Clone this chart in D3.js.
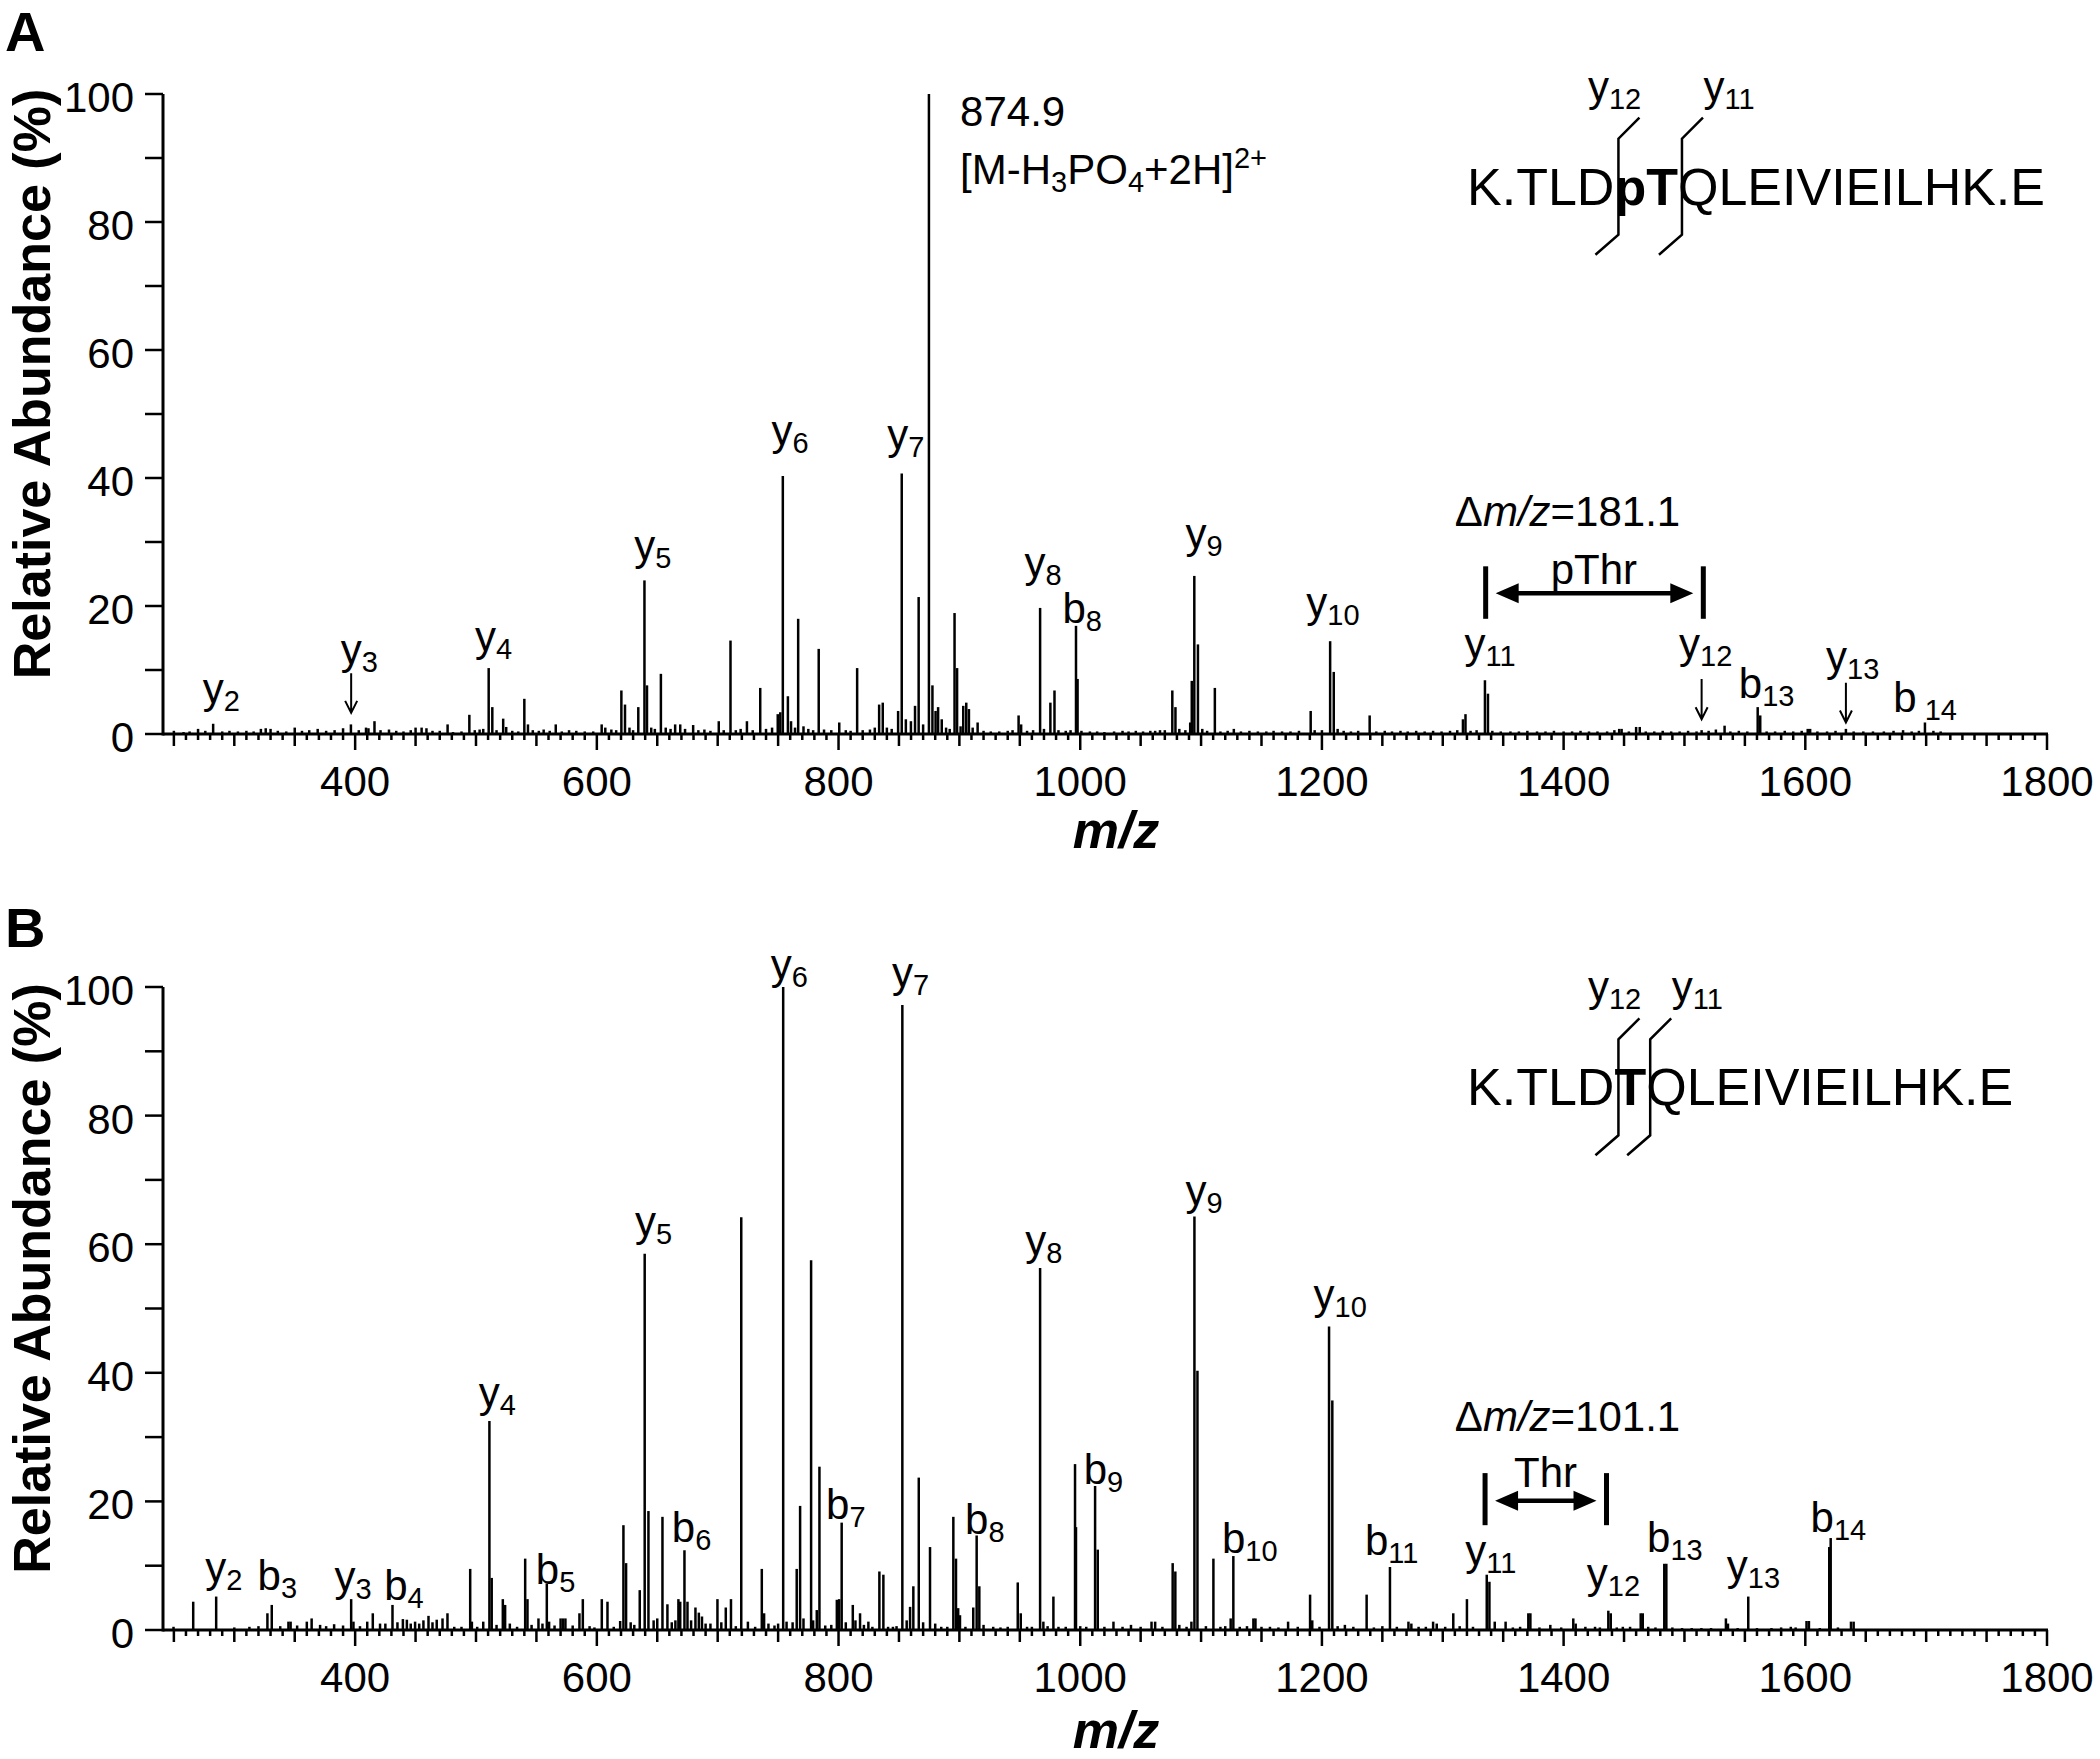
<!DOCTYPE html>
<html>
<head>
<meta charset="utf-8">
<script src="https://cdn.jsdelivr.net/npm/d3@7"></script>
<style>
  body { margin: 0; background: #fff; }
  svg { display: block; }
  text { font-family: Arial, "Liberation Sans", Helvetica, sans-serif; fill: #000; }
</style>
</head>
<body>
<div id="chart"></div>
<script>
// axis values
const xDomain = [241, 1800];
const xTickLabels = [400, 600, 800, 1000, 1200, 1400, 1600, 1800];
const yTickLabels = [0, 20, 40, 60, 80, 100];

// panel A spectrum: [m/z, relative abundance %]
const peaksA = [[250,0.5],[258,0.3],[263,0.4],[270,0.8],[276,0.5],[282.5,1.6],[290,0.4],[296,0.5],[303,0.4],[310,0.5],[316,0.4],[322,0.8],[326,0.9],[330,0.8],[336,0.5],[343,0.4],[350,1.0],[356,0.5],[362,0.6],[369,0.8],[376,0.5],[383,0.6],[390,0.9],[396.5,1.5],[403,0.6],[409,1.0],[411,0.9],[416,2.0],[421,0.6],[428,0.7],[434,0.5],[440,0.4],[446,0.6],[450,1.0],[455,1.0],[459,0.9],[464,0.5],[470,0.5],[476.5,1.5],[481,0.3],[488,0.4],[494.5,3.0],[499,0.6],[503,0.7],[506,0.8],[510.5,10.3],[513.5,4.2],[517,0.6],[522.5,2.4],[525,1.1],[530,0.5],[535,0.4],[540,5.5],[543,1.5],[547,0.6],[552,0.5],[556,0.7],[561,0.5],[566,1.5],[571,0.4],[577,0.6],[583,0.5],[590,0.4],[597,0.4],[604,1.5],[607,1.0],[612,0.7],[616,0.6],[620.3,6.8],[623.3,4.6],[627,1.0],[630,0.6],[634.3,4.2],[639.4,24],[641.5,7.6],[645,1.0],[648,0.8],[653,9.4],[657,1.0],[661,0.8],[664.8,1.5],[669,1.5],[673,0.8],[679.7,1.4],[684,0.6],[689,0.7],[694,0.5],[700.9,2.0],[705,0.6],[710.6,14.6],[715,0.6],[719,0.8],[724.2,2.0],[729,0.6],[735.2,7.2],[740,0.8],[745,1.0],[749.7,3.1],[751.8,3.4],[753.9,40.3],[758.1,5.9],[760.7,2.0],[764,1.0],[766.6,18],[771,1.2],[775,0.8],[779,0.6],[783.6,13.3],[788,0.7],[794,0.6],[800.6,1.8],[806,0.6],[810,0.5],[815.4,10.3],[820,0.6],[826,0.7],[830,1.0],[833.6,4.6],[836.6,4.9],[840,1.0],[844,0.8],[849.3,3.6],[852.3,40.7],[855.7,2.3],[859.9,2.0],[863.3,4.4],[866.3,21.4],[870,1.5],[874.8,100],[877.7,7.6],[880.3,3.6],[882.4,4.2],[885.4,2.3],[889,1.0],[892,0.8],[896,18.9],[898.1,10.3],[901,1.2],[903.2,4.4],[905.7,4.9],[907.9,3.9],[911,1.0],[915.1,1.8],[920,0.5],[926,0.4],[933,0.4],[940,0.5],[944,0.6],[949,2.9],[951.1,1.5],[956,0.5],[961,0.6],[966.8,19.7],[970,0.8],[975.3,4.9],[978.7,6.8],[982,0.6],[988,0.5],[992,0.6],[996.5,16.9],[997.8,8.6],[1001,0.5],[1008,0.4],[1014,0.4],[1020,0.3],[1028,0.4],[1035,0.5],[1040,0.4],[1046,0.5],[1052,0.4],[1058,0.5],[1062,0.5],[1066,0.6],[1070,0.6],[1076.2,6.8],[1078.8,4.2],[1082,0.8],[1087,0.6],[1091,1.8],[1092.3,8.3],[1094.4,24.7],[1097.4,14],[1101,0.8],[1105,0.5],[1111.4,7.2],[1116,0.4],[1122,0.5],[1127.1,0.8],[1133,0.4],[1140,0.5],[1147,0.4],[1154,0.4],[1160,0.5],[1167,0.4],[1174,0.4],[1181,0.5],[1190.7,3.6],[1194,0.6],[1200,0.6],[1206.8,14.5],[1209.8,9.7],[1213,0.8],[1218,0.5],[1224,0.4],[1230,0.5],[1239.5,2.9],[1245,0.4],[1252,0.5],[1258,0.4],[1265,0.5],[1271,0.4],[1278,0.5],[1285,0.4],[1292,0.5],[1299,0.4],[1306,0.5],[1312,0.6],[1316.7,2.3],[1318.8,3.1],[1323,0.5],[1328,0.6],[1334.9,8.4],[1337.4,6.3],[1341,0.5],[1348,0.4],[1356,0.4],[1363,0.4],[1370,0.5],[1378,0.4],[1385,0.4],[1392,0.5],[1400,0.4],[1407,0.4],[1414,0.5],[1421,0.4],[1428,0.4],[1436,0.4],[1442,0.6],[1446,0.8],[1448,0.8],[1454,0.4],[1460,1.1],[1463,1.1],[1468,0.4],[1475,0.4],[1482,0.5],[1489,0.4],[1496,0.4],[1503,0.5],[1510,0.4],[1514.2,0.6],[1520,0.5],[1526,0.7],[1533.2,1.3],[1538,0.4],[1545,0.5],[1552,0.4],[1560.6,4.2],[1562.7,2.9],[1568,0.4],[1575,0.4],[1583,0.5],[1590,0.4],[1597,0.5],[1602,0.8],[1604,0.8],[1610,0.4],[1618,0.4],[1625,0.5],[1633.6,0.8],[1640,0.4],[1648,0.4],[1656,0.4],[1665,0.4],[1673,0.5],[1680.9,0.6],[1688,0.4],[1694,0.5],[1699,1.8],[1706,0.5],[1712,0.4]];

// panel B spectrum: [m/z, relative abundance %]
const peaksB = [[249.7,0.5],[266,4.4],[285,5.2],[300,0.4],[312.5,0.5],[320,0.6],[327.4,2.6],[331,3.9],[338,0.6],[344.8,1.3],[346.6,1.3],[352,0.7],[360,1.3],[364,1.8],[371,0.8],[376,0.6],[382.6,0.9],[390,0.7],[396.7,4.8],[398.6,1.3],[404,0.6],[410,1.3],[414.6,2.6],[420.6,1.0],[425,1.0],[430.9,3.9],[435,1.2],[439.5,1.7],[442.8,1.6],[446,1.0],[449.6,1.3],[453,1.0],[456.5,1.5],[460.7,2.2],[464,1.2],[467.5,1.6],[472.3,1.8],[476.4,2.6],[482,0.5],[488,0.5],[495.2,9.5],[496.6,1.3],[501,0.5],[506,1.3],[511.1,32.5],[513,8.1],[517,0.8],[522.2,4.8],[524.1,3.9],[528,1.0],[534,0.5],[540.7,11.1],[542.6,4.8],[546,0.8],[551.7,1.8],[555,1.0],[558.6,7.2],[560.5,1.3],[565,0.7],[570,1.8],[572,1.8],[574,1.8],[580,0.7],[585.6,2.6],[588.4,4.8],[594,0.6],[598,0.4],[604.1,4.8],[608.8,4.4],[614,0.5],[619.3,1.4],[622,16.3],[624.2,10.4],[628,1.2],[631,0.8],[635.5,6.2],[639.6,58.5],[642.7,18.5],[647,1.5],[650,1.8],[654.3,17.6],[658.4,4.0],[662,1.2],[665,1.5],[667.5,4.8],[669,4.4],[672.5,12.4],[675,4.4],[678,1.5],[681.6,3.5],[684.4,2.7],[687,2.1],[690,1.0],[694,1.0],[699.8,4.8],[703,1.2],[706.7,3.5],[711,4.8],[715,0.6],[719.5,64.2],[725,1.3],[731,0.5],[736.5,9.5],[738.4,2.6],[742,1.0],[747,0.7],[750,1.0],[754.2,100],[757,1.3],[762,1.2],[765.4,9.5],[768.2,19.3],[771,1.8],[777.3,57.5],[779,1.5],[782,3.1],[784.2,25.4],[789,0.7],[794,0.8],[798.6,4.7],[800.5,4.8],[802.6,16.7],[806,1.2],[811.8,3.9],[814,1.5],[817.8,2.6],[821,0.8],[824.7,1.3],[828,0.5],[833.8,9.1],[837.1,8.6],[841,0.5],[845,0.5],[848,0.6],[852.8,97.2],[856.4,1.5],[859.2,3.6],[861.9,6.8],[866.4,23.7],[870,1.2],[875.7,12.9],[880,1.0],[885,0.5],[890,0.5],[895,17.6],[897.2,11.1],[899,3.4],[900.5,2.3],[905,0.5],[911.5,3.5],[914.3,14.7],[916.5,6.8],[920,0.8],[928,0.5],[934,0.4],[940,0.5],[948.3,7.4],[950.8,2.6],[956,0.5],[960,0.5],[966.8,56.3],[969.5,1.3],[973,0.6],[977.8,5.2],[982,0.5],[988,0.5],[995.7,25.8],[996.5,16],[1000,0.6],[1005,0.5],[1012.3,22.4],[1014.5,12.5],[1020,0.5],[1027.5,1.3],[1035,0.5],[1042,0.8],[1050,0.5],[1059,1.3],[1062,1.3],[1068,0.5],[1076.5,10.4],[1078.7,9.1],[1082,0.8],[1088,0.5],[1092,1.3],[1094.5,64.3],[1097,40.3],[1104,0.6],[1110.2,11.1],[1116,0.5],[1120,0.6],[1124.5,1.8],[1126.7,11.5],[1132,0.5],[1138,0.6],[1143.3,1.8],[1145,1.8],[1150,0.5],[1157,0.5],[1164,0.4],[1172,1.3],[1180,0.5],[1190.2,5.5],[1192,1.5],[1198,0.5],[1205.9,47.2],[1208.6,35.7],[1213,0.6],[1219,0.8],[1226,0.5],[1237,5.5],[1243,0.4],[1250,0.6],[1256.3,9.8],[1262,0.5],[1271.6,1.3],[1274,1.0],[1280,0.5],[1286,0.5],[1292,1.3],[1295,1.0],[1302,0.5],[1308.7,2.6],[1314,0.6],[1320,4.8],[1325,0.5],[1336.4,8.6],[1338.6,7.5],[1343,1.3],[1352,1.3],[1358,0.4],[1364,0.5],[1370.8,2.6],[1372.5,2.6],[1380,0.4],[1389,0.8],[1398,0.4],[1408,1.8],[1410,1.0],[1418,0.5],[1426,0.5],[1430,0.4],[1437,3.0],[1439,2.6],[1444,0.4],[1449,0.5],[1455,0.5],[1463.8,2.6],[1465.5,2.6],[1470,0.5],[1476,0.4],[1483.3,10.3],[1485,10.3],[1490,0.4],[1498,0.3],[1506,0.3],[1514,0.3],[1522,0.3],[1534.3,1.8],[1536,1.0],[1544,0.3],[1552.8,5.2],[1560,0.3],[1572,0.3],[1580,0.4],[1588,0.5],[1592,0.4],[1601,1.4],[1603,1.4],[1612,0.3],[1619.8,12.9],[1621,14.3],[1627,0.4],[1637.8,1.3],[1640,1.3]];

// ion labels: [ion, index, m/z under the letter, abundance at text baseline]
const ionsA = [["y","2",282.5,4.8],["y","3",396.7,11.0],["y","4",507.8,12.9],["y","5",639.7,27.2],["y","6",753.3,45.2],["y","7",849,44.5],["y","8",962.5,24.6],["b","8",995,17.4],["y","9",1095.9,29.0],["y","10",1195.8,18.3],["y","11",1326.7,11.8],["y","12",1504.2,11.8],["b","13",1554.7,5.6],["y","13",1625.9,9.9],["b","14",1682.5,3.5]];
const ionsB = [["y","2",284.7,7.5],["b","3",328.9,6.2],["y","3",391.7,6.0],["b","4",433.7,4.6],["y","4",510.9,34.7],["b","5",559.2,7.2],["y","5",640.2,61.2],["b","6",671.7,13.7],["y","6",752.5,101.3],["b","7",799.4,17.3],["y","7",852.9,100],["b","8",914.4,14.9],["y","8",963.2,58.3],["b","9",1012.6,22.7],["y","9",1095.8,66.1],["b","10",1127,12.0],["y","10",1201.8,50.0],["b","11",1245.3,11.7],["y","11",1327.3,10.1],["y","12",1427.9,6.6],["b","13",1478.7,12.2],["y","13",1543.7,7.8],["b","14",1614,15.2]];

// small down arrows in A: [m/z, top %, tip %]
const arrowsA = [[396.7,9.5,3.3],[1514.2,8.6,2.3],[1633.6,8.0,1.8]];

// neutral-loss brackets: [left m/z, right m/z, bar top %, bar bottom %, arrow %]
const bracketA = [1335.5, 1515.6, 26.2, 18.0, 22.0];
const bracketB = [1335.0, 1435.5, 24.4, 16.3, 20.1];

const svg = d3.select("#chart").append("svg")
  .attr("width", 2100)
  .attr("height", 1759);

function ionLabel(g, px, py, ion, sub) {
  const t = g.append("text")
    .attr("x", px - (ion === "b" ? 11.7 : 10.5))
    .attr("y", py)
    .attr("font-size", 42);
  t.append("tspan").text(ion);
  t.append("tspan").attr("font-size", 29).attr("dy", 8).text(sub);
  return t;
}

function drawPanel(cfg) {
  const x = d3.scaleLinear().domain(xDomain).range([163, 2047]);
  const y = d3.scaleLinear().domain([0, 100]).range(cfg.yRange);
  const g = svg.append("g");

  // peaks
  g.append("g").selectAll("line")
    .data(cfg.peaks)
    .join("line")
    .attr("x1", d => x(d[0]))
    .attr("x2", d => x(d[0]))
    .attr("y1", y(0))
    .attr("y2", d => y(d[1]))
    .attr("stroke", "#000")
    .attr("stroke-width", 2.5);

  // y axis
  g.append("line")
    .attr("x1", x(xDomain[0])).attr("x2", x(xDomain[0]))
    .attr("y1", y(0) + 1.5).attr("y2", y(100))
    .attr("stroke", "#000").attr("stroke-width", 3);
  g.append("g").selectAll("line")
    .data(d3.range(0, 101, 10))
    .join("line")
    .attr("x1", x(xDomain[0]) - 18).attr("x2", x(xDomain[0]))
    .attr("y1", d => y(d)).attr("y2", d => y(d))
    .attr("stroke", "#000").attr("stroke-width", 2.5);
  g.append("g").selectAll("text")
    .data(yTickLabels)
    .join("text")
    .attr("x", x(xDomain[0]) - 29)
    .attr("y", d => y(d) + 18)
    .attr("text-anchor", "end")
    .attr("font-size", 42)
    .text(d => d);

  // x axis
  g.append("line")
    .attr("x1", x(xDomain[0])).attr("x2", x(1800) + 1)
    .attr("y1", y(0)).attr("y2", y(0))
    .attr("stroke", "#000").attr("stroke-width", 3);
  g.append("g").selectAll("line")
    .data(d3.range(250, 1801, 10))
    .join("line")
    .attr("x1", d => x(d)).attr("x2", d => x(d))
    .attr("y1", y(0))
    .attr("y2", d => y(0) + (d % 200 === 0 ? 16 : d % 50 === 0 ? 12 : 6))
    .attr("stroke", "#000").attr("stroke-width", 2.5);
  g.append("g").selectAll("text")
    .data(xTickLabels)
    .join("text")
    .attr("x", d => x(d))
    .attr("y", y(0) + 62)
    .attr("text-anchor", "middle")
    .attr("font-size", 42)
    .text(d => d);

  // axis titles
  g.append("text")
    .attr("x", 1116).attr("y", y(0) + cfg.titleGap)
    .attr("text-anchor", "middle")
    .attr("font-size", 52).attr("font-weight", "bold").attr("font-style", "italic")
    .text("m/z");
  g.append("text")
    .attr("transform", `translate(50,${y(50) - 30}) rotate(-90)`)
    .attr("text-anchor", "middle")
    .attr("font-size", 52).attr("font-weight", "bold")
    .text("Relative Abundance (%)");
  g.append("text")
    .attr("x", 5).attr("y", cfg.letterY)
    .attr("font-size", 56).attr("font-weight", "bold")
    .text(cfg.letter);

  // ion labels
  cfg.ions.forEach(d => {
    const t = ionLabel(g, x(d[2]), y(d[3]), d[0], d[1]);
    if (cfg.letter === "A" && d[0] === "b" && d[1] === "14") t.select("tspan:last-child").attr("dx", 8);
  });

  // bracket with double arrow
  const [bl, br, bt, bb, ba] = cfg.bracket;
  [bl, br].forEach(m => {
    g.append("line")
      .attr("x1", x(m)).attr("x2", x(m))
      .attr("y1", y(bt)).attr("y2", y(bb))
      .attr("stroke", "#000").attr("stroke-width", 5);
  });
  const ax0 = x(bl) + 10, ax1 = x(br) - 10, ay = y(ba);
  g.append("line")
    .attr("x1", ax0 + 15).attr("x2", ax1 - 15)
    .attr("y1", ay).attr("y2", ay)
    .attr("stroke", "#000").attr("stroke-width", 4.5);
  g.append("path")
    .attr("d", `M${ax0},${ay}L${ax0 + 23},${ay - 10}L${ax0 + 23},${ay + 10}Z M${ax1},${ay}L${ax1 - 23},${ay - 10}L${ax1 - 23},${ay + 10}Z`)
    .attr("fill", "#000");
  g.append("text")
    .attr("x", x(cfg.residue[1])).attr("y", y(cfg.residue[2]))
    .attr("text-anchor", "middle").attr("font-size", 42)
    .text(cfg.residue[0]);

  // delta m/z text
  const dt = g.append("text")
    .attr("x", x(1310)).attr("y", y(cfg.delta[1]))
    .attr("font-size", 42);
  dt.append("tspan").text("Δ");
  dt.append("tspan").attr("font-style", "italic").text("m/z");
  dt.append("tspan").text("=" + cfg.delta[0]);

  // peptide sequence with cleavage marks
  const sx = x(1320.1), sy = y(cfg.seqY);
  const seq = g.append("text").attr("x", sx).attr("y", sy).attr("font-size", 52);
  cfg.seq.forEach(s => {
    seq.append("tspan").attr("font-weight", s[1] ? "bold" : null).text(s[0]);
  });
  const node = seq.node();
  cfg.cuts.forEach((c, i) => {
    const bx = sx + node.getSubStringLength(0, c) + 4;
    g.append("path")
      .attr("d", `M${bx - 23},${sy + 50}L${bx},${sy + 30}L${bx},${sy - 66}L${bx + 21},${sy - 87}`)
      .attr("fill", "none").attr("stroke", "#000").attr("stroke-width", 2.5);
    const lx = bx + 21 + (i === 0 ? -41 : 11);
    ionLabel(g, lx, sy - 104, "y", i === 0 ? "12" : "11");
  });

  return {x, y, g};
}

const A = drawPanel({
  letter: "A", letterY: 51, yRange: [734, 94], titleGap: 114,
  peaks: peaksA, ions: ionsA, bracket: bracketA,
  residue: ["pThr", 1425, 23.4], delta: ["181.1", 32.5],
  seq: [["K.TLD", false], ["pT", true], ["QLEIVIEILHK.E", false]], cuts: [5, 7],
  seqY: 82.7
});

const B = drawPanel({
  letter: "B", letterY: 947, yRange: [1630, 987], titleGap: 118,
  peaks: peaksB, ions: ionsB, bracket: bracketB,
  residue: ["Thr", 1385, 22.3], delta: ["101.1", 31],
  seq: [["K.TLD", false], ["T", true], ["QLEIVIEILHK.E", false]], cuts: [5, 6],
  seqY: 81.6
});

// arrows in panel A
arrowsA.forEach(d => {
  const ax = A.x(d[0]), yt = A.y(d[1]), yb = A.y(d[2]);
  A.g.append("path")
    .attr("d", `M${ax},${yt}L${ax},${yb} M${ax - 6},${yb - 12}L${ax},${yb}L${ax + 6},${yb - 12}`)
    .attr("fill", "none").attr("stroke", "#000").attr("stroke-width", 2);
});

// precursor annotation
const pre = A.g.append("g");
pre.append("text").attr("x", A.x(900.6)).attr("y", A.y(95)).attr("font-size", 42).text("874.9");
const pt = pre.append("text").attr("x", A.x(900.6)).attr("y", A.y(86)).attr("font-size", 42);
pt.append("tspan").text("[M-H");
pt.append("tspan").attr("font-size", 29).attr("dy", 8).text("3");
pt.append("tspan").attr("dy", -8).text("PO");
pt.append("tspan").attr("font-size", 29).attr("dy", 8).text("4");
pt.append("tspan").attr("dy", -8).text("+2H]");
pt.append("tspan").attr("font-size", 29).attr("dy", -16).text("2+");
</script>
</body>
</html>
